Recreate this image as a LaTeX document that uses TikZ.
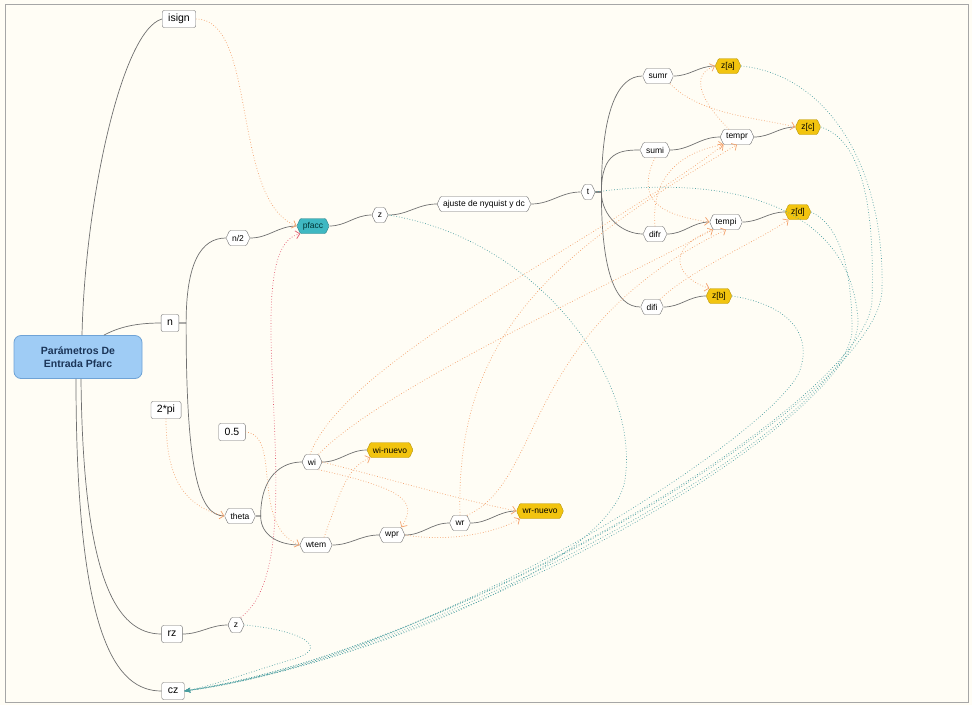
\documentclass[tikz,border=0pt]{standalone}
\usepackage{fontspec}
\setmainfont{Liberation Sans}
\usetikzlibrary{shapes.symbols,arrows.meta}
\definecolor{bgcream}{HTML}{FFFDF5}
\definecolor{linegray}{HTML}{707070}
\definecolor{relorange}{HTML}{F3A06A}
\definecolor{relred}{HTML}{E2586E}
\definecolor{relteal}{HTML}{4A9EA0}
\definecolor{gold}{HTML}{F2C40F}
\definecolor{goldline}{HTML}{B8960A}
\definecolor{tealfill}{HTML}{3FB8C2}
\definecolor{rootfill}{HTML}{9FCCF5}
\definecolor{rootline}{HTML}{6FA3D6}
\definecolor{roottext}{HTML}{1B3558}
\tikzset{
  central/.style={draw=rootline, fill=rootfill, rounded corners=7pt, line width=0.8pt,
    minimum width=128pt, minimum height=43pt, align=center, text=roottext,
    font=\fontsize{10.5}{12.5}\selectfont\bfseries},
  topic/.style={draw=linegray, fill=white, rounded corners=2pt,
    font=\fontsize{10.5}{11}\selectfont, inner xsep=6pt, minimum height=17pt},
  sub/.style={draw=linegray, fill=white, shape=signal, signal to=east and west,
    signal pointer angle=130, rounded corners=1pt, font=\fontsize{8.5}{9}\selectfont,
    inner xsep=2.5pt, inner ysep=1pt, minimum height=15pt},
  result/.style={sub, fill=gold, draw=goldline},
  fn/.style={sub, fill=tealfill, draw=tealfill!70!black, text=teal!40!black},
  branch/.style={draw=linegray, line width=0.7pt},
  rel/.style={relorange, dotted, line width=0.7pt, -{Straight Barb[length=4pt]}},
  relr/.style={relred, dotted, line width=0.7pt, -{Straight Barb[length=4pt]}},
  relt/.style={relteal, dotted, line width=0.7pt, -{Stealth[length=6pt]}}
}
\begin{document}
\begin{tikzpicture}[x=1pt, y=-1pt]
  \useasboundingbox (0,0) rectangle (972,705);
  \fill[bgcream] (0,0) rectangle (972,705);
  \draw[gray!70] (5,4) rectangle (968,702);

  % nodos
  \node[central] (root) at (78,357) {Parámetros De\\Entrada Pfarc};
  \node[topic] (isign) at (179,19) {isign};
  \node[topic] (n) at (170,323) {n};
  \node[topic] (twopi) at (166,410) {2*pi};
  \node[topic] (half) at (232,432) {0.5};
  \node[topic] (rz) at (172,634) {rz};
  \node[topic] (cz) at (173,691) {cz};

  \node[sub] (n2) at (238,238) {n/2};
  \node[fn] (pfacc) at (313,226) {pfacc};
  \node[sub] (z1) at (380,215) {z};
  \node[sub] (ajuste) at (484,204) {ajuste de nyquist y dc};
  \node[sub] (t) at (588,192) {t};
  \node[sub] (sumr) at (658,76) {sumr};
  \node[sub] (sumi) at (655,150) {sumi};
  \node[sub] (difr) at (655,234) {difr};
  \node[sub] (difi) at (652,307) {difi};
  \node[result] (za) at (728,66) {z[a]};
  \node[sub] (tempr) at (737,137) {tempr};
  \node[result] (zc) at (808,127) {z[c]};
  \node[sub] (tempi) at (726,222) {tempi};
  \node[result] (zd) at (798,212) {z[d]};
  \node[result] (zb) at (719,296) {z[b]};

  \node[sub] (theta) at (240,516) {theta};
  \node[sub] (wi) at (312,462) {wi};
  \node[result] (winuevo) at (390,450) {wi-nuevo};
  \node[sub] (wtem) at (316,545) {wtem};
  \node[sub] (wpr) at (392,535) {wpr};
  \node[sub] (wr) at (460,523) {wr};
  \node[result] (wrnuevo) at (540,511) {wr-nuevo};
  \node[sub] (z2) at (236,625) {z};

  % ramas
  \draw[branch] ([xshift=4pt]root.north) .. controls +(3,-135) and +(-40,11) .. (isign.west);
  \draw[branch] ([xshift=26pt]root.north) .. controls +(15,-8) and +(-25,0) .. (n.west);
  \draw[branch] ([xshift=3pt]root.south) .. controls +(2,200) and +(-45,0) .. (rz.west);
  \draw[branch] ([xshift=-2pt]root.south) .. controls +(0,260) and +(-45,0) .. (cz.west);
  \draw[branch] (n.east) -- ++(7,0) .. controls +(0,-60) and +(-25,0) .. (n2.west);
  \draw[branch] (n.east) -- ++(7,0) .. controls +(0,150) and +(-25,0) .. (theta.west);
  \draw[branch] (n2.east) to[out=0,in=180] (pfacc.west);
  \draw[branch] (pfacc.east) to[out=0,in=180] (z1.west);
  \draw[branch] (z1.east) to[out=0,in=180] (ajuste.west);
  \draw[branch] (ajuste.east) to[out=0,in=180] (t.west);
  \draw[branch] (t.east) -- ++(6,0) .. controls +(0,-80) and +(-25,0) .. (sumr.west);
  \draw[branch] (t.east) -- ++(6,0) .. controls +(0,-40) and +(-20,0) .. (sumi.west);
  \draw[branch] (t.east) -- ++(6,0) .. controls +(0,25) and +(-20,0) .. (difr.west);
  \draw[branch] (t.east) -- ++(6,0) .. controls +(0,80) and +(-25,0) .. (difi.west);
  \draw[branch] (sumr.east) to[out=0,in=180] (za.west);
  \draw[branch] (sumi.east) to[out=0,in=180] (tempr.west);
  \draw[branch] (tempr.east) to[out=0,in=180] (zc.west);
  \draw[branch] (difr.east) to[out=0,in=180] (tempi.west);
  \draw[branch] (tempi.east) to[out=0,in=180] (zd.west);
  \draw[branch] (difi.east) to[out=0,in=180] (zb.west);
  \draw[branch] (theta.east) -- ++(5,0) .. controls +(0,-40) and +(-20,0) .. (wi.west);
  \draw[branch] (theta.east) -- ++(5,0) .. controls +(0,20) and +(-20,0) .. (wtem.west);
  \draw[branch] (wi.east) to[out=0,in=180] (winuevo.west);
  \draw[branch] (wtem.east) to[out=0,in=180] (wpr.west);
  \draw[branch] (wpr.east) to[out=0,in=180] (wr.west);
  \draw[branch] (wr.east) to[out=0,in=180] (wrnuevo.west);
  \draw[branch] (rz.east) to[out=0,in=180] (z2.west);

  % relaciones
  \draw[rel] (isign.east) .. controls +(62,0) and +(-66,-26) .. (pfacc.west);
  \draw[rel] (twopi.south) .. controls +(0,60) and +(-40,-10) .. (theta.west);
  \draw[rel] (half.east) .. controls +(37,3) and +(-50,-20) .. (wtem.west);
  \draw[rel] ([xshift=8pt]wtem.north) .. controls +(15,-40) and +(-25,10) .. (winuevo.south west);
  \draw[rel] (wi.east) .. controls +(60,15) and +(-60,-12) .. (wrnuevo.west);
  \draw[rel] (wi.south east) .. controls +(90,20) and +(15,-25) .. (wpr.north east);
  \draw[rel] (wpr.east) .. controls +(50,8) and +(-20,12) .. (wrnuevo.south west);
  \draw[rel] ([xshift=-2pt]wi.north) .. controls (345,360) and (600,240) .. (tempr.south west);
  \draw[rel] (wi.north east) .. controls (380,390) and (600,290) .. (tempi.south west);
  \draw[rel] (wr.north) .. controls (455,330) and (560,250) .. (tempr.south);
  \draw[rel] (wr.north east) .. controls (545,480) and (520,330) .. (tempi.south);
  \draw[rel] (sumr.south east) .. controls (700,115) and (760,118) .. (zc.west);
  \draw[rel] ([xshift=-8pt]tempr.north) .. controls (700,100) and (690,75) .. (za.west);
  \draw[rel] (sumi.south) .. controls (635,200) and (660,215) .. (tempi.west);
  \draw[rel] (difr.north) .. controls (650,170) and (690,150) .. (tempr.south west);
  \draw[rel] (difi.north east) .. controls (690,270) and (760,240) .. (zd.south west);
  \draw[rel] (tempi.south west) .. controls (660,250) and (680,280) .. (zb.north west);
  \draw[relr] (z2.north east) .. controls (320,560) and (230,250) .. (pfacc.south west);
  \draw[relt] (za.east) .. controls (830,75) and (885,170) .. (882,290) .. controls (879,400) and (450,650) .. (cz.east);
  \draw[relt] (zc.east) .. controls (860,140) and (875,200) .. (872,300) .. controls (870,400) and (450,650) .. (cz.east);
  \draw[relt] (t.east) .. controls (720,175) and (850,200) .. (858,320) .. controls (862,420) and (450,655) .. (cz.east);
  \draw[relt] (zd.east) .. controls (840,225) and (852,270) .. (852,330) .. controls (852,420) and (440,655) .. (cz.east);
  \draw[relt] (zb.east) .. controls (790,305) and (812,335) .. (800,370) .. controls (780,430) and (430,660) .. (cz.east);
  \draw[relt] (z1.east) .. controls (540,240) and (640,380) .. (625,480) .. controls (612,560) and (380,660) .. (cz.east);
  \draw[relt] (z2.east) .. controls (300,630) and (335,648) .. (290,660) .. controls (250,672) and (215,685) .. (cz.east);
\end{tikzpicture}
\end{document}
